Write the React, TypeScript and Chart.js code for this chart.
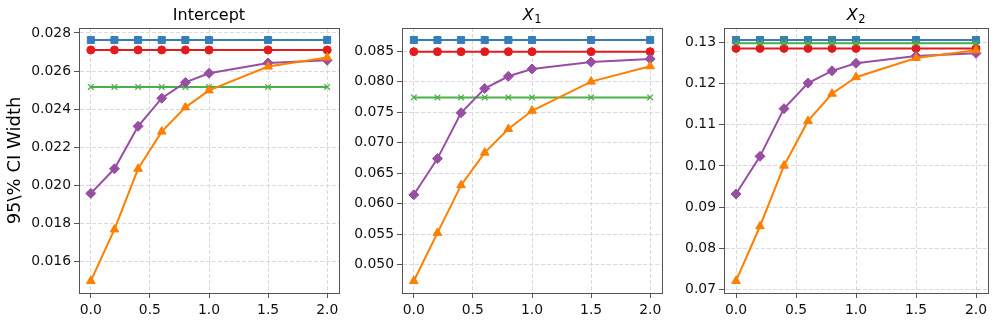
import React, { useEffect, useRef } from "react";
import { Chart, registerables } from "chart.js";

Chart.register(...registerables);

// ---------- data ----------
const xValues = [0, 0.2, 0.4, 0.6, 0.8, 1.0, 1.5, 2.0];
const xTicks = [0, 0.5, 1.0, 1.5, 2.0];

const interceptBlue = [0.02763, 0.02763, 0.02763, 0.02763, 0.02763, 0.02763, 0.02763, 0.02763];
const interceptRed = [0.02711, 0.02711, 0.02711, 0.02711, 0.02711, 0.02711, 0.02711, 0.02711];
const interceptGreen = [0.02517, 0.02517, 0.02517, 0.02517, 0.02517, 0.02517, 0.02517, 0.02517];
const interceptPurple = [0.01959, 0.02088, 0.02311, 0.02458, 0.02541, 0.02589, 0.02643, 0.02657];
const interceptOrange = [0.015, 0.0177, 0.02088, 0.02283, 0.0241, 0.02499, 0.02624, 0.02671];
const interceptTicks = [0.016, 0.018, 0.02, 0.022, 0.024, 0.026, 0.028];

const x1Blue = [0.08686, 0.08686, 0.08686, 0.08686, 0.08686, 0.08686, 0.08686, 0.08686];
const x1Red = [0.08495, 0.08495, 0.08495, 0.08495, 0.08495, 0.08495, 0.08495, 0.08495];
const x1Green = [0.07743, 0.07743, 0.07743, 0.07743, 0.07743, 0.07743, 0.07743, 0.07743];
const x1Purple = [0.06145, 0.06739, 0.07492, 0.0789, 0.08091, 0.08211, 0.08326, 0.08375];
const x1Orange = [0.0473, 0.0552, 0.06303, 0.06837, 0.07224, 0.07525, 0.08004, 0.08255];
const x1Ticks = [0.05, 0.055, 0.06, 0.065, 0.07, 0.075, 0.08, 0.085];

const x2Blue = [0.13065, 0.13065, 0.13065, 0.13065, 0.13065, 0.13065, 0.13065, 0.13065];
const x2Red = [0.12862, 0.12862, 0.12862, 0.12862, 0.12862, 0.12862, 0.12862, 0.12862];
const x2Green = [0.1299, 0.1299, 0.1299, 0.1299, 0.1299, 0.1299, 0.1299, 0.1299];
const x2Purple = [0.09315, 0.10234, 0.11395, 0.12016, 0.12315, 0.125, 0.12677, 0.12742];
const x2Orange = [0.072, 0.08532, 0.10007, 0.11096, 0.11758, 0.12161, 0.12629, 0.12814];
const x2Ticks = [0.07, 0.08, 0.09, 0.1, 0.11, 0.12, 0.13];

// ---------- styles ----------
const BLUE = "#377eb8";
const RED = "#e41a1c";
const GREEN = "#4daf4a";
const PURPLE = "#984ea3";
const ORANGE = "#ff7f00";
const FONT = '"DejaVu Sans", sans-serif';

const titlePlugin = {
  id: "subTitle",
  afterDraw(chart: any, _args: any, opts: any) {
    const { ctx, chartArea } = chart;
    const main: string = opts.main;
    const sub: string = opts.sub || "";
    ctx.save();
    const mainFont = (opts.italic ? "italic " : "") + "16px " + FONT;
    const subFont = "11.5px " + FONT;
    ctx.font = mainFont;
    const w1 = ctx.measureText(main).width;
    let w2 = 0;
    if (sub) {
      ctx.font = subFont;
      w2 = ctx.measureText(sub).width;
    }
    const cx = (chartArea.left + chartArea.right) / 2;
    const x0 = cx - (w1 + w2) / 2;
    ctx.fillStyle = "#000";
    ctx.textAlign = "left";
    ctx.textBaseline = "alphabetic";
    ctx.font = mainFont;
    ctx.fillText(main, x0, 20);
    if (sub) {
      ctx.font = subFont;
      ctx.fillText(sub, x0 + w1 + 0.5, 23);
    }
    ctx.restore();
  },
};

const framePlugin = {
  id: "frame",
  afterDraw(chart: any) {
    const { ctx, chartArea } = chart;
    ctx.save();
    ctx.strokeStyle = "#555";
    ctx.lineWidth = 1;
    ctx.setLineDash([]);
    ctx.strokeRect(
      Math.round(chartArea.left) + 0.5,
      Math.round(chartArea.top) + 0.5,
      Math.round(chartArea.right - chartArea.left),
      Math.round(chartArea.bottom - chartArea.top)
    );
    ctx.restore();
  },
};

function series(label: string, ys: number[], color: string, style: string, radius: number, order: number) {
  return {
    label,
    data: xValues.map((x, i) => ({ x, y: ys[i] })),
    borderColor: color,
    backgroundColor: color,
    pointBackgroundColor: color,
    pointBorderColor: color,
    pointStyle: style,
    pointRadius: radius,
    pointBorderWidth: style === "crossRot" ? 1.3 : 1,
    borderWidth: 2,
    order,
    clip: false as any,
  };
}

type PanelProps = {
  left: number;
  width: number;
  yAxisWidth: number;
  rightPad: number;
  title: string;
  sub?: string;
  italic?: boolean;
  blue: number[];
  red: number[];
  green: number[];
  purple: number[];
  orange: number[];
  yTicks: number[];
  decimals: number;
  yLabel?: string;
};

function Panel(p: PanelProps) {
  const ref = useRef<HTMLCanvasElement | null>(null);
  useEffect(() => {
    if (!ref.current) return;
    const all = [...p.blue, ...p.red, ...p.green, ...p.purple, ...p.orange];
    const lo = Math.min(...all);
    const hi = Math.max(...all);
    const m = (hi - lo) * 0.05;
    const chart = new Chart(ref.current, {
      type: "line",
      data: {
        datasets: [
          series("A", p.blue, BLUE, "rect", 5, 5),
          series("B", p.red, RED, "circle", 4, 4),
          series("C", p.green, GREEN, "crossRot", 4, 3),
          series("D", p.purple, PURPLE, "rectRot", 5, 2),
          series("E", p.orange, ORANGE, "triangle", 5, 1),
        ] as any,
      },
      options: {
        animation: false,
        responsive: false,
        maintainAspectRatio: false,
        layout: { padding: { top: 28, right: p.rightPad, left: 0, bottom: 0 } },
        plugins: {
          legend: { display: false },
          tooltip: { enabled: false },
          title: { display: false },
          subTitle: { main: p.title, sub: p.sub, italic: p.italic },
        } as any,
        scales: {
          x: {
            type: "linear",
            min: -0.1,
            max: 2.1,
            afterBuildTicks: (s: any) => {
              s.ticks = xTicks.map((v) => ({ value: v }));
            },
            afterFit: (s: any) => {
              s.height = 31;
            },
            ticks: {
              font: { family: FONT, size: 13.9 },
              color: "#111",
              padding: 4,
              maxRotation: 0,
              autoSkip: false,
              callback: (v: any) => Number(v).toFixed(1),
            },
            grid: {
              color: "#dadada",
              lineWidth: 1,
              tickColor: "#555",
              tickLength: 5,
              tickWidth: 1,
            },
            border: { display: true, color: "#555", width: 1, dash: [4, 2] },
          },
          y: {
            type: "linear",
            min: lo - m,
            max: hi + m,
            afterBuildTicks: (s: any) => {
              s.ticks = p.yTicks.map((v) => ({ value: v }));
            },
            afterFit: (s: any) => {
              s.width = p.yAxisWidth;
            },
            ticks: {
              font: { family: FONT, size: 13.9 },
              color: "#111",
              padding: 3,
              autoSkip: false,
              callback: (v: any) => Number(v).toFixed(p.decimals),
            },
            grid: {
              color: "#dadada",
              lineWidth: 1,
              tickColor: "#555",
              tickLength: 5,
              tickWidth: 1,
            },
            border: { display: true, color: "#555", width: 1, dash: [4, 2] },
            title: {
              display: !!p.yLabel,
              text: p.yLabel || "",
              font: { family: FONT, size: 18 },
              color: "#000",
              padding: { top: 5, bottom: 0 },
            },
          },
        },
      },
      plugins: [titlePlugin, framePlugin],
    });
    return () => chart.destroy();
  }, []);
  return (
    <canvas
      ref={ref}
      width={p.width}
      height={324}
      style={{ position: "absolute", left: p.left, top: 0, width: p.width, height: 324 }}
    />
  );
}

export default function App() {
  return (
    <div style={{ position: "fixed", left: 0, top: 0, width: 996, height: 324, background: "#fff", overflow: "hidden" }}>
      <Panel
        left={0}
        width={345}
        yAxisWidth={79}
        rightPad={3}
        title="Intercept"
        blue={interceptBlue}
        red={interceptRed}
        green={interceptGreen}
        purple={interceptPurple}
        orange={interceptOrange}
        yTicks={interceptTicks}
        decimals={3}
        yLabel={"95\\% CI Width"}
      />
      <Panel
        left={345}
        width={323}
        yAxisWidth={57}
        rightPad={3}
        title="X"
        sub="1"
        italic
        blue={x1Blue}
        red={x1Red}
        green={x1Green}
        purple={x1Purple}
        orange={x1Orange}
        yTicks={x1Ticks}
        decimals={3}
      />
      <Panel
        left={668}
        width={328}
        yAxisWidth={56}
        rightPad={8}
        title="X"
        sub="2"
        italic
        blue={x2Blue}
        red={x2Red}
        green={x2Green}
        purple={x2Purple}
        orange={x2Orange}
        yTicks={x2Ticks}
        decimals={2}
      />
    </div>
  );
}
